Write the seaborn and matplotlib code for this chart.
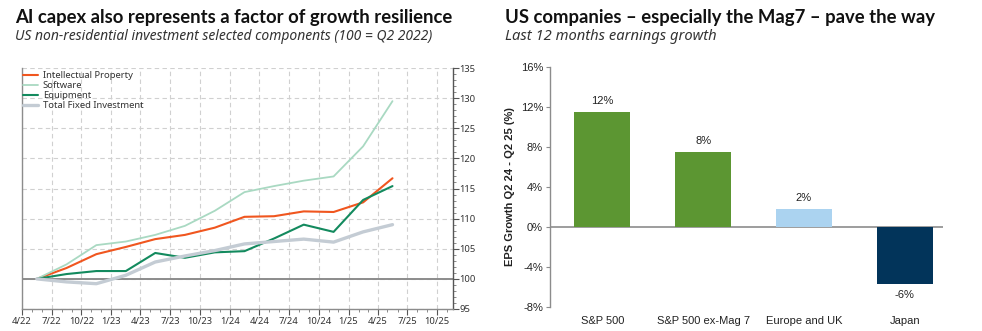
import matplotlib
matplotlib.use("Agg")
import matplotlib.pyplot as plt
import matplotlib.dates as mdates
from matplotlib.ticker import MultipleLocator, FixedLocator, FuncFormatter
import seaborn as sns
import pandas as pd

# ---------------- data ----------------
quarters = ["2022Q2", "2022Q3", "2022Q4", "2023Q1", "2023Q2", "2023Q3", "2023Q4",
            "2024Q1", "2024Q2", "2024Q3", "2024Q4", "2025Q1", "2025Q2"]
intellectual_property = [100, 101.8, 104.1, 105.3, 106.6, 107.3, 108.5, 110.3, 110.4, 111.2, 111.1, 112.7, 116.7]
software = [100, 102.4, 105.6, 106.2, 107.3, 108.8, 111.3, 114.4, 115.4, 116.3, 117.0, 122.0, 129.5]
equipment = [100, 100.8, 101.3, 101.3, 104.3, 103.5, 104.4, 104.6, 106.7, 109.0, 107.8, 113.1, 115.4]
total_fixed = [100, 99.5, 99.2, 100.6, 102.8, 103.8, 104.7, 105.8, 106.2, 106.6, 106.1, 107.8, 109.0]
series_names = ["Intellectual Property", "Software", "Equipment", "Total Fixed Investment"]
x_tick_labels = ["4/22", "7/22", "10/22", "1/23", "4/23", "7/23", "10/23", "1/24",
                 "4/24", "7/24", "10/24", "1/25", "4/25", "7/25", "10/25"]
y_ticks_left = [95, 100, 105, 110, 115, 120, 125, 130, 135]

regions = ["S&P 500", "S&P 500 ex-Mag 7", "Europe and UK", "Japan"]
eps_growth = [11.5, 7.5, 1.8, -5.75]
eps_labels = ["12%", "8%", "2%", "-6%"]
y_ticks_right = [-8, -4, 0, 4, 8, 12, 16]

# ---------------- styling ----------------
line_colors = ["#F0561F", "#A9D9C2", "#138A5E", "#C4CCD4"]
line_widths = [1.5, 1.3, 1.5, 2.4]
bar_colors = ["#5C9632", "#5C9632", "#ABD3F0", "#02345A"]
arial = ["Liberation Sans", "DejaVu Sans"]
title_font = ["Lato", "DejaVu Sans"]

sns.set_theme(style="white")
plt.rcParams["font.family"] = ["Noto Sans", "DejaVu Sans"]

fig = plt.figure(figsize=(9.82, 3.31), dpi=100)

# ---------------- titles ----------------
fig.text(15 / 982, 1 - 23 / 331, "AI capex also represents a factor of growth resilience",
         fontsize=13.3, fontweight="bold", family=title_font, color="#111111", ha="left", va="baseline")
fig.text(15 / 982, 1 - 39.5 / 331, "US non-residential investment selected components (100 = Q2 2022)",
         fontsize=10.0, style="italic", color="#333333", ha="left", va="baseline")
fig.text(505 / 982, 1 - 23 / 331, "US companies \u2013 especially the Mag7 \u2013 pave the way",
         fontsize=13.3, fontweight="bold", family=title_font, color="#111111", ha="left", va="baseline")
fig.text(505 / 982, 1 - 39.5 / 331, "Last 12 months earnings growth",
         fontsize=10.6, style="italic", color="#333333", ha="left", va="baseline")

# ---------------- left chart ----------------
def mid_quarter(q):
    p = pd.Period(q, freq="Q")
    return p.start_time + (p.end_time - p.start_time) / 2

dates = [mid_quarter(q) for q in quarters]
df = pd.DataFrame({
    "date": dates * 4,
    "value": intellectual_property + software + equipment + total_fixed,
    "series": sum([[n] * len(dates) for n in series_names], []),
})

ax1 = fig.add_axes([22 / 982, 1 - 309 / 331, (452.7 - 22) / 982, (309 - 68) / 331])
sns.lineplot(data=df, x="date", y="value", hue="series", hue_order=series_names,
             palette=line_colors, ax=ax1, legend=True)
for ln, lw in zip(ax1.get_lines(), line_widths):
    ln.set_linewidth(lw)
ax1.axhline(100, color="#8C8C8C", lw=1.4, zorder=1)

tick_dates = [pd.Timestamp(year=2000 + int(t.split("/")[1]), month=int(t.split("/")[0]), day=1)
              for t in x_tick_labels]
ax1.set_xlim(pd.Timestamp("2022-04-01"), pd.Timestamp("2025-11-18"))
ax1.xaxis.set_major_locator(FixedLocator(mdates.date2num(tick_dates)))
ax1.set_xticklabels(x_tick_labels)
ax1.xaxis.set_minor_locator(mdates.MonthLocator())
ax1.set_ylim(95, 135)
ax1.set_yticks(y_ticks_left)
ax1.yaxis.set_minor_locator(MultipleLocator(1))
ax1.yaxis.tick_right()
ax1.set_xlabel("")
ax1.set_ylabel("")
ax1.grid(True, which="major", color="#D0D0D0", linestyle=(0, (4, 3)), lw=0.8)
ax1.tick_params(axis="x", which="major", direction="out", length=4, width=0.8, color="#555555",
                labelsize=6.8, labelcolor="#333333", pad=2, bottom=True)
ax1.tick_params(axis="x", which="minor", direction="out", length=2, width=0.6, color="#777777", bottom=True)
ax1.tick_params(axis="y", which="major", direction="out", length=4, width=0.8, color="#555555",
                labelsize=6.8, labelcolor="#333333", pad=1, right=True, left=False)
ax1.tick_params(axis="y", which="minor", direction="out", length=2, width=0.6, color="#777777",
                right=True, left=False)
for s in ["left", "bottom", "right"]:
    ax1.spines[s].set_visible(True)
    ax1.spines[s].set_color("#8C8C8C")
    ax1.spines[s].set_linewidth(1.0)
ax1.spines["right"].set_color("#555555")
ax1.spines["top"].set_visible(False)

leg = ax1.legend(loc="upper left", frameon=False, fontsize=6.8, handlelength=1.6,
                 handletextpad=0.5, labelspacing=0.1, borderaxespad=0.0,
                 borderpad=0.1, bbox_to_anchor=(0.0, 0.99))
for h, c, lw in zip(leg.get_lines(), line_colors, line_widths):
    h.set_color(c)
    h.set_linewidth(lw)
for t in leg.get_texts():
    t.set_color("#333333")

# ---------------- right chart ----------------
ax2 = fig.add_axes([550 / 982, 1 - 306.7 / 331, (943 - 550) / 982, (306.7 - 66.7) / 331])
bdf = pd.DataFrame({"region": regions, "growth": eps_growth})
sns.barplot(data=bdf, x="region", y="growth", hue="region", palette=bar_colors,
            order=regions, hue_order=regions, legend=False, ax=ax2, width=0.555,
            edgecolor="none", saturation=1, dodge=False)
ax2.set_ylim(-8, 16)
ax2.set_xlim(-0.52, 3.38)
ax2.set_yticks(y_ticks_right)
ax2.yaxis.set_major_formatter(FuncFormatter(lambda v, p: f"{v:.0f}%"))
ax2.axhline(0, color="#8C8C8C", lw=1.2, zorder=0.5)
for s in ["top", "right", "bottom"]:
    ax2.spines[s].set_visible(False)
ax2.spines["left"].set_color("#8C8C8C")
ax2.spines["left"].set_linewidth(1.0)
ax2.tick_params(axis="y", direction="out", length=3, width=0.8, color="#8C8C8C", left=True,
                labelsize=8, pad=2)
ax2.tick_params(axis="x", length=0, labelsize=8, pad=7)
for lab in ax2.get_yticklabels() + ax2.get_xticklabels():
    lab.set_fontfamily(arial)
    lab.set_color("#222222")
ax2.set_xlabel("")
ax2.set_ylabel("EPS Growth Q2 24 - Q2 25 (%)", fontsize=8, fontweight="bold",
               family=arial, color="#222222", labelpad=4)

# label each bar with its text
bars = [p for cont in ax2.containers for p in cont]
bars.sort(key=lambda p: p.get_x())
for p, lab in zip(bars, eps_labels):
    h = p.get_height()
    xc = p.get_x() + p.get_width() / 2
    if h >= 0:
        ax2.annotate(lab, (xc, h), xytext=(0, 4), textcoords="offset points",
                     ha="center", va="bottom", fontsize=8, family=arial, color="#222222")
    else:
        ax2.annotate(lab, (xc, h), xytext=(0, -4), textcoords="offset points",
                     ha="center", va="top", fontsize=8, family=arial, color="#222222")

fig.savefig("out.png", dpi=100)
